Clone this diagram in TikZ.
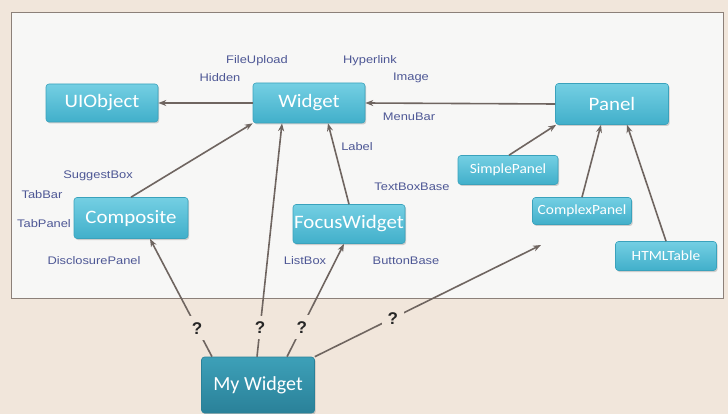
\documentclass[tikz,border=0pt]{standalone}
\usepackage{fontspec}
\setmainfont{Liberation Sans}
\newfontfamily\boxfont[FakeStretch=1.1]{Carlito}
\newfontfamily\mwfont{Carlito}
\newfontfamily\lblfont[FakeStretch=1.17]{Liberation Sans}
\usetikzlibrary{arrows.meta,shadows}
\definecolor{bgbeige}{HTML}{F1E6DB}
\definecolor{panelbg}{HTML}{F7F7F6}
\definecolor{panelline}{HTML}{8C8079}
\definecolor{boxtop}{HTML}{74CFE3}
\definecolor{boxbot}{HTML}{41AFCA}
\definecolor{boxdraw}{HTML}{3AA2BC}
\definecolor{mwtop}{HTML}{3DA0B8}
\definecolor{mwbot}{HTML}{2A8199}
\definecolor{lblcol}{HTML}{4D5795}
\definecolor{linecol}{HTML}{6F6560}
\tikzset{
  cls/.style={rounded corners=3pt, top color=boxtop, bottom color=boxbot, draw=boxdraw, line width=0.6pt,
    text=white, font=\boxfont\fontsize{19}{20}\selectfont, inner sep=0pt,
    drop shadow={shadow xshift=1.2pt, shadow yshift=-1.5pt, opacity=0.35}},
  smallcls/.style={cls, font=\boxfont\fontsize{14}{15}\selectfont},
  mybox/.style={rounded corners=3pt, top color=mwtop, bottom color=mwbot, draw=mwbot, line width=0.6pt,
    text=white, font=\mwfont\fontsize{20}{22}\selectfont, inner sep=0pt,
    drop shadow={shadow xshift=1.2pt, shadow yshift=-1.5pt, opacity=0.35}},
  lbl/.style={text=lblcol, font=\lblfont\fontsize{11}{12}\selectfont, inner sep=0pt},
  inh/.style={draw=linecol, line width=1.6pt, -{Stealth[length=8pt,width=6pt]}},
  qm/.style={fill=bgbeige, inner sep=6pt, text=black!85, font=\bfseries\fontsize{17}{18}\selectfont},
}
\begin{document}
\begin{tikzpicture}[x=1pt,y=-1pt]
\useasboundingbox (0,0) rectangle (728,414);
\fill[bgbeige] (0,0) rectangle (728,414);
\draw[panelline, line width=1pt, fill=panelbg] (11,13) rectangle (723,298);

% class boxes
\node[cls, minimum width=112pt, minimum height=38pt] (UIObject) at (102,103) {UIObject};
\node[cls, minimum width=112pt, minimum height=40pt] (Widget) at (309,103) {Widget};
\node[cls, minimum width=113pt, minimum height=41pt] (Panel) at (612,104) {Panel};
\node[smallcls, minimum width=100pt, minimum height=29pt] (SimplePanel) at (508,170) {SimplePanel};
\node[smallcls, minimum width=99pt, minimum height=27pt] (ComplexPanel) at (582,211) {ComplexPanel};
\node[smallcls, minimum width=101pt, minimum height=29pt] (HTMLTable) at (666,256) {HTMLTable};
\node[cls, minimum width=114pt, minimum height=41pt] (Composite) at (131,218) {Composite};
\node[cls, minimum width=112pt, minimum height=39pt] (FocusWidget) at (349,224) {FocusWidget};
\node[mybox, minimum width=113pt, minimum height=56pt] (MyWidget) at (258,385) {My Widget};
\coordinate (freeEnd) at (541,245);

% labels
\node[lbl] (lFileUpload) at (257,61) {FileUpload};
\node[lbl] (lHyperlink) at (370,61) {Hyperlink};
\node[lbl] (lHidden) at (220,78) {Hidden};
\node[lbl] (lImage) at (411,78) {Image};
\node[lbl] (lMenuBar) at (409,117) {MenuBar};
\node[lbl] (lLabel) at (357,147) {Label};
\node[lbl] (lSuggestBox) at (98,176) {SuggestBox};
\node[lbl] (lTabBar) at (42,195) {TabBar};
\node[lbl] (lTabPanel) at (44,224) {TabPanel};
\node[lbl] (lDisclosure) at (94,261) {DisclosurePanel};
\node[lbl] (lListBox) at (305,261) {ListBox};
\node[lbl] (lTextBoxBase) at (412,187) {TextBoxBase};
\node[lbl] (lButtonBase) at (406,261) {ButtonBase};

% inheritance arrows
\draw[inh] (Widget.west) -- (UIObject.east);
\draw[inh] (Panel.west) -- (Widget.east);
\draw[inh] (Composite.north) -- (Widget.south west);
\draw[inh] (FocusWidget.north) -- ([xshift=19pt]Widget.south);
\draw[inh] ([xshift=1pt]SimplePanel.north) -- ([xshift=1pt]Panel.south west);
\draw[inh] (ComplexPanel.north) -- ([xshift=-11pt]Panel.south);
\draw[inh] (HTMLTable.north) -- ([xshift=15pt]Panel.south);

% question arrows
\draw[inh] ([xshift=-46pt]MyWidget.north) -- node[qm, pos=0.24] (q1) {?} ([xshift=19pt]Composite.south);
\draw[inh] ([xshift=-1pt]MyWidget.north) -- node[qm, pos=0.125] (q2) {?} ([xshift=-27pt]Widget.south);
\draw[inh] ([xshift=29pt]MyWidget.north) -- node[qm, pos=0.26] (q3) {?} ([xshift=-5pt]FocusWidget.south);
\draw[inh] (MyWidget.north east) -- node[qm, pos=0.345] (q4) {?} (freeEnd);
\end{tikzpicture}
\end{document}
